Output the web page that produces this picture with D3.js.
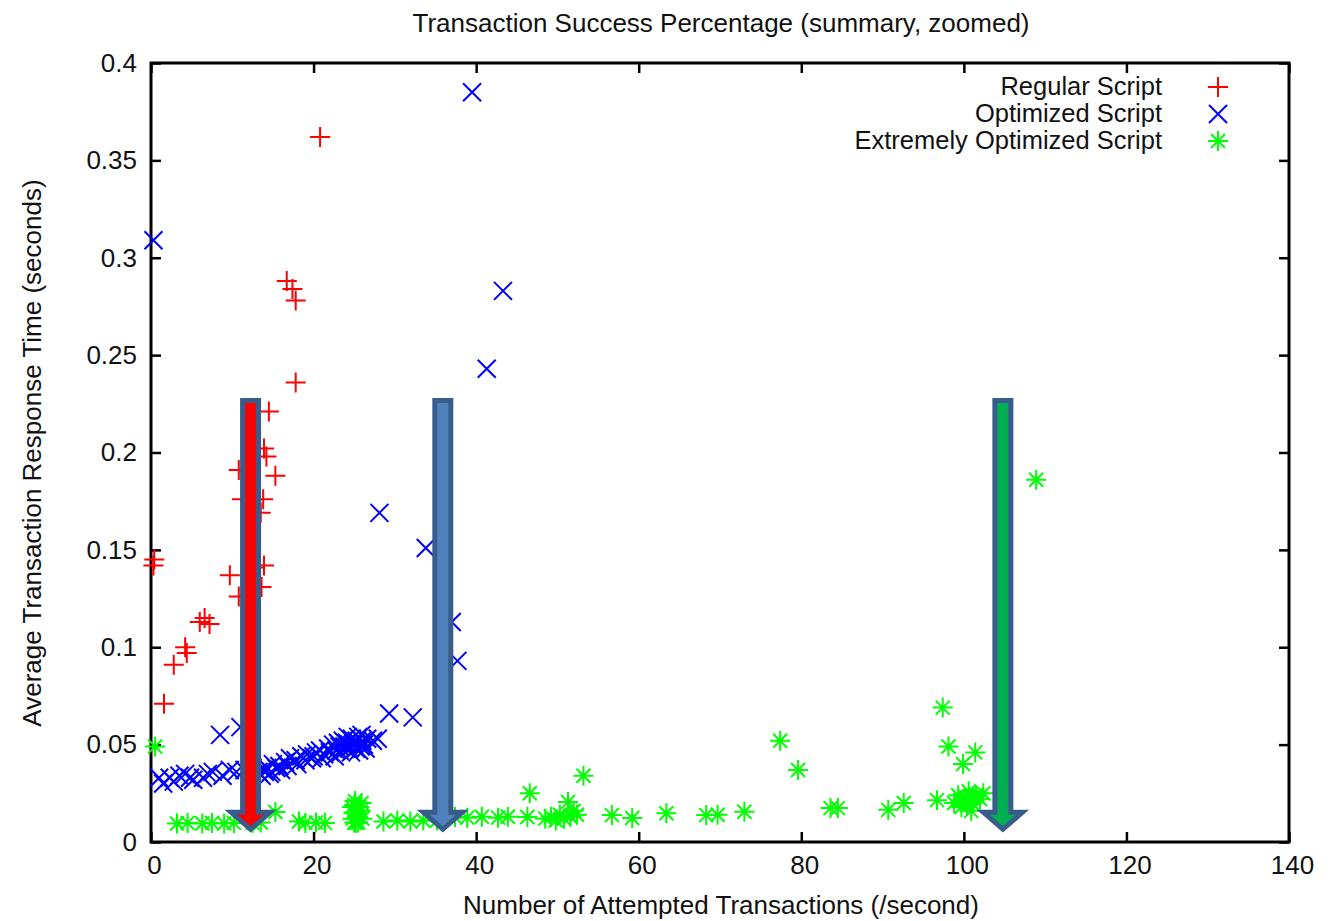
<!DOCTYPE html>
<html>
<head>
<meta charset="utf-8">
<script src="https://cdn.jsdelivr.net/npm/d3@7"></script>
<style>
  html, body { margin: 0; padding: 0; background: #fff; }
  svg { display: block; font-family: "Liberation Sans", Arial, sans-serif; }
  .tick text { font-size: 26px; fill: #111; }
</style>
</head>
<body>
<svg id="chart" width="1332" height="921"></svg>
<script>
// series, [attempted tx/s, avg response time s]
const regular = [
	[0.3, 0.142], [0.4, 0.145], [1.6, 0.071], [2.8, 0.091], [4.2, 0.100], [4.4, 0.097],
	[6.0, 0.113], [6.6, 0.115], [7.2, 0.112], [9.7, 0.137], [10.8, 0.191], [11.2, 0.176],
	[10.8, 0.126], [12.4, 0.130], [12.6, 0.141], [13.6, 0.131], [13.9, 0.142], [13.8, 0.176],
	[13.5, 0.169], [13.9, 0.202], [14.2, 0.198], [14.5, 0.221], [15.3, 0.188], [16.7, 0.288],
	[17.4, 0.284], [17.8, 0.278], [17.8, 0.236], [20.8, 0.362]
];

const optimized = [
	[0.3, 0.309], [1.0, 0.033], [1.5, 0.030], [2.3, 0.033], [2.8, 0.031], [3.5, 0.034],
	[4.2, 0.035], [4.8, 0.033], [5.2, 0.032], [6.4, 0.033], [7.0, 0.035], [7.6, 0.036],
	[8.5, 0.055], [8.8, 0.034], [9.7, 0.037], [10.5, 0.036], [11.0, 0.059], [11.5, 0.037],
	[12.5, 0.038], [13.2, 0.036], [13.8, 0.037], [14.3, 0.038], [14.8, 0.036], [15.0, 0.040],
	[15.8, 0.039], [16.5, 0.041], [17.1, 0.043], [17.8, 0.042], [18.5, 0.044], [19.2, 0.045],
	[19.8, 0.043], [20.3, 0.046], [20.8, 0.047], [21.3, 0.045], [21.8, 0.048], [22.4, 0.050],
	[22.8, 0.047], [23.2, 0.049], [23.6, 0.052], [24.1, 0.051], [24.4, 0.048], [24.7, 0.053],
	[25.0, 0.050], [25.3, 0.052], [25.6, 0.047], [25.9, 0.055], [26.2, 0.050], [26.6, 0.053],
	[27.3, 0.052], [27.9, 0.053], [28.1, 0.169], [29.3, 0.066], [32.2, 0.064], [33.8, 0.151],
	[37.0, 0.113], [37.7, 0.093], [39.5, 0.385], [41.3, 0.243], [43.3, 0.283],
	[13.6, 0.034], [14.0, 0.036], [14.6, 0.035], [15.4, 0.038], [16.0, 0.037], [16.8, 0.039],
	[18.0, 0.040], [19.0, 0.042], [20.0, 0.044], [21.0, 0.043], [22.0, 0.046], [22.6, 0.044],
	[23.0, 0.051], [23.4, 0.046], [23.8, 0.049], [24.2, 0.054], [24.6, 0.046], [24.9, 0.051],
	[25.2, 0.048], [25.5, 0.054], [25.8, 0.049], [26.0, 0.052], [26.4, 0.048], [24.0, 0.048]
];

const extreme = [
	[0.5, 0.049], [3.2, 0.0095], [4.5, 0.0098], [6.3, 0.0095], [7.5, 0.0098], [9.0, 0.0095],
	[10.2, 0.0098], [12.5, 0.0098], [13.5, 0.010], [15.3, 0.0154], [18.2, 0.0105], [19.0, 0.0098],
	[20.3, 0.010], [21.4, 0.0098], [24.7, 0.018], [24.8, 0.012], [25.0, 0.010], [25.1, 0.021],
	[25.3, 0.015], [25.5, 0.010], [25.6, 0.018], [25.9, 0.020], [26.0, 0.012], [25.2, 0.0098],
	[24.9, 0.015], [25.4, 0.013], [25.8, 0.016], [25.0, 0.019],
	[28.6, 0.0105], [30.3, 0.011], [31.9, 0.0105], [33.5, 0.011], [35.2, 0.011], [37.4, 0.0128],
	[38.9, 0.0125], [40.7, 0.013], [42.7, 0.0125], [43.9, 0.013], [46.3, 0.0128], [46.6, 0.025],
	[48.5, 0.012], [49.2, 0.013], [49.8, 0.011], [50.3, 0.014], [50.8, 0.012], [51.3, 0.0206],
	[51.6, 0.013], [52.0, 0.016], [52.4, 0.014], [53.2, 0.034], [56.7, 0.0138], [59.2, 0.0123],
	[63.4, 0.0148], [68.3, 0.0138], [69.7, 0.014], [73.0, 0.0155], [77.4, 0.052], [79.6, 0.037],
	[83.6, 0.0174], [84.5, 0.0174], [90.7, 0.0165], [92.6, 0.020], [96.7, 0.0215], [97.4, 0.069],
	[98.1, 0.049], [98.8, 0.020], [99.3, 0.024], [99.9, 0.040], [99.7, 0.018], [100.2, 0.022],
	[100.6, 0.026], [101.0, 0.020], [101.4, 0.046], [101.5, 0.024], [102.0, 0.022], [102.4, 0.025],
	[100.9, 0.016], [99.9, 0.021], [101.2, 0.023], [100.4, 0.019], [108.9, 0.186]
];

const seriesNames = ['Regular Script', 'Optimized Script', 'Extremely Optimized Script'];
const xTicks = [0, 20, 40, 60, 80, 100, 120, 140];
const yTicks = [0, 0.05, 0.1, 0.15, 0.2, 0.25, 0.3, 0.35, 0.4];
const yTickLabels = ['0', '0.05', '0.1', '0.15', '0.2', '0.25', '0.3', '0.35', '0.4'];

// the hand-drawn arrows sitting on top of the plot (x in tx/s)
const arrowX = [12.25, 35.9, 104.8];
const arrowTop = 0.228;
const arrowTip = 0.005;

const colors = ['#ff0000', '#0000ff', '#00ff00'];
const arrowFills = ['#ff0000', '#4f81bd', '#00b050'];
const arrowEdge = '#385d8a';

const margin = { top: 63, right: 43, bottom: 79, left: 151 };
const width = 1332;
const height = 921;

const svg = d3.select('#chart');

const x = d3.scaleLinear().domain([0, 140]).range([margin.left, width - margin.right]);
const y = d3.scaleLinear().domain([0, 0.4]).range([height - margin.bottom, margin.top]);

// marker shapes, gnuplot style
const markers = [
	'M-10,0H10M0,-10V10',
	'M-9,-9L9,9M-9,9L9,-9',
	'M-10,0H10M0,-10V10M-7,-7L7,7M-7,7L7,-7'
];

// axes, ticks pointing inward
const xAxis = d3.axisBottom(x).tickValues(xTicks).tickSizeInner(-10).tickSizeOuter(0).tickPadding(14);
const yAxis = d3
	.axisLeft(y)
	.tickValues(yTicks)
	.tickFormat((d, i) => yTickLabels[i])
	.tickSizeInner(-10)
	.tickSizeOuter(0)
	.tickPadding(14);

svg.append('g')
	.attr('transform', `translate(0,${y(0)})`)
	.call(xAxis)
	.selectAll('text')
	.attr('dx', 3);
svg.append('g')
	.attr('transform', `translate(${x(0)},0)`)
	.call(yAxis);
svg.append('g')
	.attr('transform', `translate(0,${y(0.4)})`)
	.call(d3.axisTop(x).tickValues(xTicks).tickSizeInner(-10).tickSizeOuter(0).tickFormat(''));
svg.append('g')
	.attr('transform', `translate(${x(140)},0)`)
	.call(d3.axisRight(y).tickValues(yTicks).tickSizeInner(-10).tickSizeOuter(0).tickFormat(''));

svg.selectAll('.domain').remove();
svg.selectAll('.tick line').attr('stroke', '#000').attr('stroke-width', 2.5);

svg.append('rect')
	.attr('x', x(0))
	.attr('y', y(0.4))
	.attr('width', x(140) - x(0))
	.attr('height', y(0) - y(0.4))
	.attr('fill', 'none')
	.attr('stroke', '#000')
	.attr('stroke-width', 3);

// titles
svg.append('text')
	.attr('x', 721)
	.attr('y', 32)
	.attr('text-anchor', 'middle')
	.attr('font-size', 26)
	.attr('fill', '#111')
	.text('Transaction Success Percentage (summary, zoomed)');

svg.append('text')
	.attr('x', 721)
	.attr('y', 914)
	.attr('text-anchor', 'middle')
	.attr('font-size', 26)
	.attr('fill', '#111')
	.text('Number of Attempted Transactions (/second)');

svg.append('text')
	.attr('transform', 'translate(41,453) rotate(-90)')
	.attr('text-anchor', 'middle')
	.attr('font-size', 26)
	.attr('fill', '#111')
	.text('Average Transaction Response Time (seconds)');

// points
const allSeries = [regular, optimized, extreme];
allSeries.forEach((data, i) => {
	svg.append('g')
		.selectAll('path')
		.data(data)
		.join('path')
		.attr('transform', d => `translate(${x(d[0])},${y(d[1])})`)
		.attr('d', markers[i])
		.attr('fill', 'none')
		.attr('stroke', colors[i])
		.attr('stroke-width', 2);
});

// legend
const legend = svg.append('g');
seriesNames.forEach((name, i) => {
	const cy = 87 + i * 27;
	legend.append('text')
		.attr('x', 1162)
		.attr('y', cy + 8)
		.attr('text-anchor', 'end')
		.attr('font-size', 25.5)
		.attr('fill', '#111')
		.text(name);
	legend.append('path')
		.attr('transform', `translate(1218,${cy})`)
		.attr('d', markers[i])
		.attr('fill', 'none')
		.attr('stroke', colors[i])
		.attr('stroke-width', 2);
});

// arrows
function arrowPath(cx) {
	const top = y(arrowTop) + 2.5;
	const tip = y(arrowTip) - 3;
	const headBase = tip - 17;
	const sw = 8;
	const hw = 19.5;
	return `M${cx - sw},${top}H${cx + sw}V${headBase}H${cx + hw}L${cx},${tip}L${cx - hw},${headBase}H${cx - sw}Z`;
}

svg.append('g')
	.selectAll('path')
	.data(arrowX)
	.join('path')
	.attr('d', d => arrowPath(x(d)))
	.attr('fill', (d, i) => arrowFills[i])
	.attr('stroke', arrowEdge)
	.attr('stroke-width', 5)
	.attr('stroke-linejoin', 'miter');
</script>
</body>
</html>
